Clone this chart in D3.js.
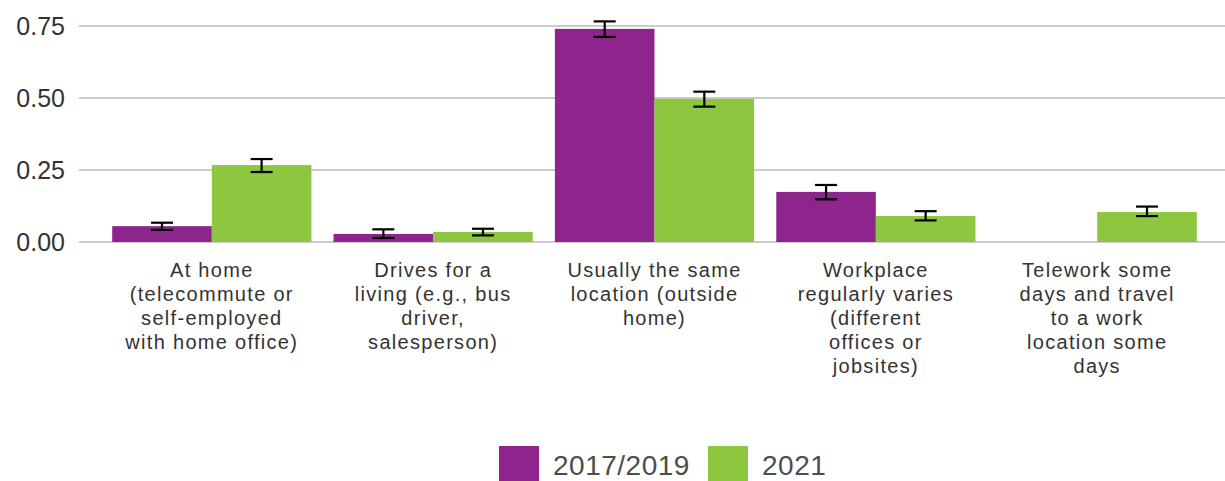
<meta charset="utf-8">
<title>Work location</title>
<style>
  body { margin: 0; background: #fff; }
  text { font-family: "Liberation Sans", Arial, sans-serif; }
</style>
<body>
<script src="https://cdn.jsdelivr.net/npm/d3@7"></script>
<script>

var width = 1225;
var height = 481;
var margin = { top: 0, right: -5, bottom: 239, left: 79 };

var categories = [
  ['At home', '(telecommute or', 'self-employed', 'with home office)'],
  ['Drives for a', 'living (e.g., bus', 'driver,', 'salesperson)'],
  ['Usually the same', 'location (outside', 'home)'],
  ['Workplace', 'regularly varies', '(different', 'offices or', 'jobsites)'],
  ['Telework some', 'days and travel', 'to a work', 'location some', 'days']
];
var series = ['2017/2019', '2021'];
var colors = ['#8e258d', '#8dc63f'];

// estimate, lower, upper ; null = no bar
var val2017 = [0.055, 0.028, 0.740, 0.174, null];
var lo2017  = [0.042, 0.014, 0.712, 0.148, null];
var hi2017  = [0.067, 0.044, 0.766, 0.198, null];
var val2021 = [0.267, 0.035, 0.497, 0.090, 0.104];
var lo2021  = [0.243, 0.023, 0.470, 0.075, 0.090];
var hi2021  = [0.288, 0.046, 0.522, 0.107, 0.123];
var yTicks = [0, 0.25, 0.5, 0.75];

var svg = d3.select('body').append('svg')
    .attr('width', width)
    .attr('height', height);

var x = d3.scalePoint()
    .domain(d3.range(categories.length))
    .range([margin.left, width - margin.right])
    .padding(0.6);

var y = d3.scaleLinear()
    .domain([0, 0.75])
    .range([height - margin.bottom, 26]);

var barW = x.step() * 0.45;

// grid lines
svg.append('g').selectAll('line')
    .data(yTicks)
    .enter().append('line')
    .attr('x1', margin.left)
    .attr('x2', width)
    .attr('y1', function(d){ return y(d); })
    .attr('y2', function(d){ return y(d); })
    .style('stroke', '#cccccc')
    .style('stroke-width', 2);

// y labels
svg.append('g').selectAll('text')
    .data(yTicks)
    .enter().append('text')
    .attr('x', 65)
    .attr('y', function(d){ return y(d); })
    .attr('dy', '0.36em')
    .attr('text-anchor', 'end')
    .style('font-size', '25px')
    .style('fill', '#333')
    .text(function(d){ return d3.format('.2f')(d); });

var rows = [];
categories.forEach(function(c, i) {
  if (val2017[i] != null) rows.push({ i: i, s: 0, v: val2017[i], lo: lo2017[i], hi: hi2017[i] });
  if (val2021[i] != null) rows.push({ i: i, s: 1, v: val2021[i], lo: lo2021[i], hi: hi2021[i] });
});

function bx(d) { return x(d.i) + (d.s - 1) * barW; }

svg.append('g').selectAll('rect')
    .data(rows)
    .enter().append('rect')
    .attr('x', bx)
    .attr('width', barW)
    .attr('y', function(d){ return y(d.v); })
    .attr('height', function(d){ return y(0) - y(d.v); })
    .style('fill', function(d){ return colors[d.s]; });

// error bars
var eb = svg.append('g').selectAll('g')
    .data(rows)
    .enter().append('g')
    .attr('transform', function(d){ return 'translate(' + (bx(d) + barW / 2) + ',0)'; })
    .style('stroke', '#000')
    .style('stroke-width', 2.2);
eb.append('line')
    .attr('y1', function(d){ return y(d.lo); })
    .attr('y2', function(d){ return y(d.hi); });
eb.append('line')
    .attr('x1', -11).attr('x2', 11)
    .attr('y1', function(d){ return y(d.hi); })
    .attr('y2', function(d){ return y(d.hi); });
eb.append('line')
    .attr('x1', -11).attr('x2', 11)
    .attr('y1', function(d){ return y(d.lo); })
    .attr('y2', function(d){ return y(d.lo); });

// x labels
var xl = svg.append('g').selectAll('text')
    .data(categories)
    .enter().append('text')
    .attr('text-anchor', 'middle')
    .style('font-size', '20px')
    .style('letter-spacing', '1.3px')
    .style('fill', '#333');
xl.selectAll('tspan')
    .data(function(d, i){ return d.map(function(t){ return { t: t, i: i }; }); })
    .enter().append('tspan')
    .attr('x', function(d){ return x(d.i); })
    .attr('y', function(d, j){ return 277 + j * 24; })
    .text(function(d){ return d.t; });

// legend
var legX = [499, 708];
var leg = svg.append('g').selectAll('g')
    .data(series)
    .enter().append('g')
    .attr('transform', function(d, i){ return 'translate(' + legX[i] + ',446)'; });
leg.append('rect')
    .attr('width', 40)
    .attr('height', 35)
    .style('fill', function(d, i){ return colors[i]; });
leg.append('text')
    .attr('x', 54)
    .attr('y', 29)
    .style('font-size', '28px')
    .style('letter-spacing', '0.5px')
    .style('fill', '#4d4d4d')
    .text(function(d){ return d; });

</script>
</body>
